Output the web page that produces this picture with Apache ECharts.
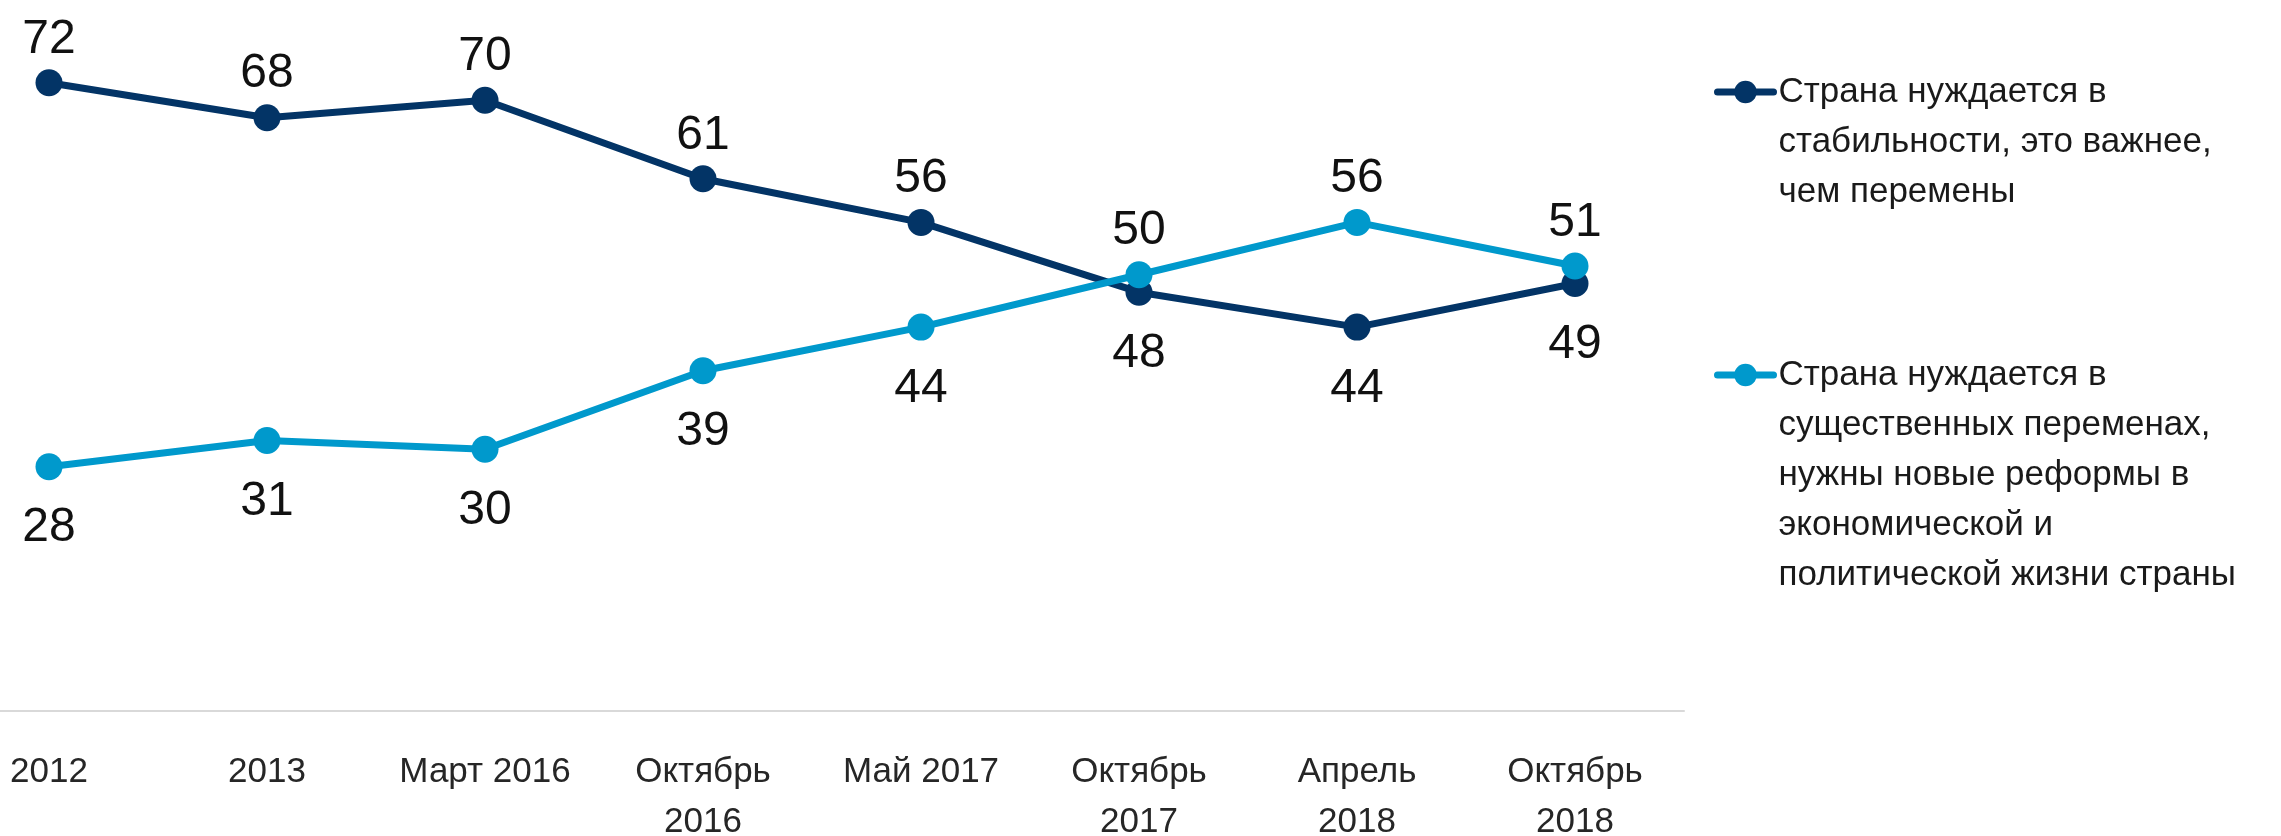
<!DOCTYPE html>
<html>
<head>
<meta charset="utf-8">
<script src="https://cdn.jsdelivr.net/npm/echarts@6/dist/echarts.min.js"></script>
<style>
  html, body { margin: 0; padding: 0; background: #fff; }
  #chart { width: 2281px; height: 836px; }
</style>
</head>
<body>
<div id="chart"></div>
<script>
// 时间点（横轴）
const periods = ["2012", "2013", "Март 2016", "Октябрь\n2016", "Май 2017", "Октябрь\n2017", "Апрель\n2018", "Октябрь\n2018"];
// 两条折线的数据，单位 %
const stabilityValues = [72, 68, 70, 61, 56, 48, 44, 49];
const changeValues = [28, 31, 30, 39, 44, 50, 56, 51];
// 系列名称
const stabilityName = "Страна нуждается в стабильности, это важнее, чем перемены";
const changeName = "Страна нуждается в существенных переменах, нужны новые реформы в экономической и политической жизни страны";
// 图例里的换行
const stabilityLegend = ["Страна нуждается в", "стабильности, это важнее,", "чем перемены"];
const changeLegend = ["Страна нуждается в", "существенных переменах,", "нужны новые реформы в", "экономической и", "политической жизни страны"];

const darkColor = "#033466";
const lightColor = "#0099CC";
const font = "'Liberation Sans', Arial, sans-serif";
const legendLineHeight = 50;

const chart = echarts.init(document.getElementById("chart"));

// 哪条线在上，标签就在上面，否则在下面
function buildData(values, other) {
  return values.map((v, i) => {
    const above = v >= other[i];
    return {
      value: v,
      label: { position: above ? "top" : "bottom", distance: above ? 6 : 24 },
    };
  });
}

function lineSeries(name, values, other, color) {
  return {
    name: name,
    type: "line",
    data: buildData(values, other),
    symbol: "circle",
    symbolSize: 27,
    lineStyle: { color: color, width: 7 },
    itemStyle: { color: color },
    label: {
      show: true,
      color: "#111",
      fontSize: 48,
      fontFamily: font,
    },
    z: 2,
  };
}

// 图例文字默认垂直居中于图标，前面补空行让图标对齐第一行
function legendFor(name, lines, iconY) {
  const pad = lines.length - 1;
  const text = new Array(pad).fill("").concat(lines).join("\n");
  const blockHeight = (pad + lines.length) * legendLineHeight;
  return {
    data: [name],
    orient: "vertical",
    left: 1714,
    top: iconY - blockHeight / 2,
    padding: 0,
    itemWidth: 56,
    itemHeight: 28,
    lineStyle: { width: 7, cap: "round" },
    formatter: () => text,
    textStyle: {
      fontSize: 35,
      fontFamily: font,
      color: "#1a1a1a",
      lineHeight: legendLineHeight,
    },
  };
}

const option = {
  animation: false,
  backgroundColor: "#fff",
  grid: {
    left: -60,
    width: 1744,
    top: 13,
    height: 698,
    containLabel: false,
    outerBoundsMode: "none",
  },
  legend: [
    legendFor(stabilityName, stabilityLegend, 92),
    legendFor(changeName, changeLegend, 375),
  ],
  xAxis: {
    type: "category",
    data: periods,
    boundaryGap: true,
    axisLine: { show: true, lineStyle: { color: "#d9d9d9", width: 2 } },
    axisTick: { show: false },
    axisLabel: {
      interval: 0,
      margin: 36,
      fontSize: 35,
      lineHeight: 50,
      fontFamily: font,
      color: "#262626",
    },
  },
  yAxis: {
    type: "value",
    min: 0,
    max: 80,
    show: false,
    splitLine: { show: false },
  },
  series: [
    lineSeries(stabilityName, stabilityValues, changeValues, darkColor),
    lineSeries(changeName, changeValues, stabilityValues, lightColor),
  ],
};

chart.setOption(option);
</script>
</body>
</html>
